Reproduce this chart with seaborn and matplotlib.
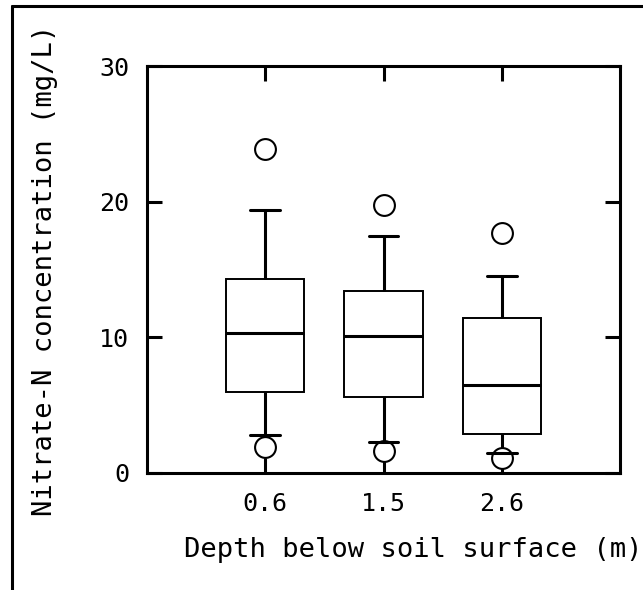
import matplotlib
matplotlib.use("Agg")
import matplotlib.pyplot as plt
from matplotlib.lines import Line2D
import seaborn as sns
import pandas as pd

# Summary values (mg/L)
depths = ["0.6", "1.5", "2.6"]
lower_outlier = [1.9, 1.6, 1.1]
whisker_low = [2.8, 2.3, 1.45]
q1 = [6.0, 5.6, 2.9]
median = [10.3, 10.1, 6.45]
q3 = [14.3, 13.45, 11.45]
whisker_high = [19.4, 17.5, 14.55]
upper_outlier = [23.9, 19.75, 17.7]

yticks = [0, 10, 20, 30]

# Build a small long-form table whose percentiles reproduce the summary values
rows = []
for i, d in enumerate(depths):
    vals = [lower_outlier[i], whisker_low[i], q1[i], q1[i], median[i],
            q3[i], q3[i], whisker_high[i], upper_outlier[i]]
    for v in vals:
        rows.append({"depth": d, "nitrate": v})
df = pd.DataFrame(rows)

sns.set_style("white")
plt.rcParams["font.family"] = ["DejaVu Sans Mono", "DejaVu Sans"]
plt.rcParams["text.color"] = "black"
plt.rcParams["axes.labelcolor"] = "black"
plt.rcParams["xtick.color"] = "black"
plt.rcParams["ytick.color"] = "black"

fig = plt.figure(figsize=(6.43, 5.90), dpi=100)
ax = fig.add_axes([147 / 643, 1 - 473 / 590, 473 / 643, 407 / 590])

sns.boxplot(
    data=df, x="depth", y="nitrate", order=depths, ax=ax,
    whis=(12.5, 87.5), width=0.66, color="white", linecolor="black",
    linewidth=1.5, fliersize=15, capwidths=0.25,
    boxprops=dict(linewidth=1.4, edgecolor="black", facecolor="white"),
    medianprops=dict(linewidth=2.2, color="black"),
    whiskerprops=dict(linewidth=2.2, color="black"),
    capprops=dict(linewidth=2.2, color="black", zorder=5),
    flierprops=dict(marker="o", markerfacecolor="white", markeredgecolor="black",
                    markeredgewidth=1.5, markersize=15, zorder=4),
)

ax.set_xlim(-1, 3)
ax.set_ylim(0, 30)
ax.set_yticks(yticks)
ax.set_yticklabels([str(t) for t in yticks])
ax.set_xticks(range(len(depths)))
ax.set_xticklabels(depths)

for s in ax.spines.values():
    s.set_visible(True)
    s.set_linewidth(2.2)
    s.set_color("black")

ax.tick_params(axis="both", which="both", direction="in", length=11, width=2.2,
               color="black", labelcolor="black", labelsize=18, top=True,
               right=True, left=True, bottom=True)
ax.tick_params(axis="y", pad=13)
ax.tick_params(axis="x", pad=14)

ax.set_xlabel("Depth below soil surface (m)", fontsize=19.5, va="center",
              color="black")
ax.set_ylabel("Nitrate-N concentration (mg/L)", fontsize=19.5, va="center",
              color="black")
ax.xaxis.set_label_coords(413 / 643, 1 - 550 / 590, transform=fig.transFigure)
ax.yaxis.set_label_coords(45 / 643, 1 - 270 / 590, transform=fig.transFigure)

# partial figure frame (top and left edges)
fig.add_artist(Line2D([12 / 643, 1.0], [1 - 6 / 590, 1 - 6 / 590],
                      transform=fig.transFigure, color="black", linewidth=2.2))
fig.add_artist(Line2D([12 / 643, 12 / 643], [0.0, 1 - 6 / 590],
                      transform=fig.transFigure, color="black", linewidth=2.2))

fig.savefig("out.png", dpi=100)
